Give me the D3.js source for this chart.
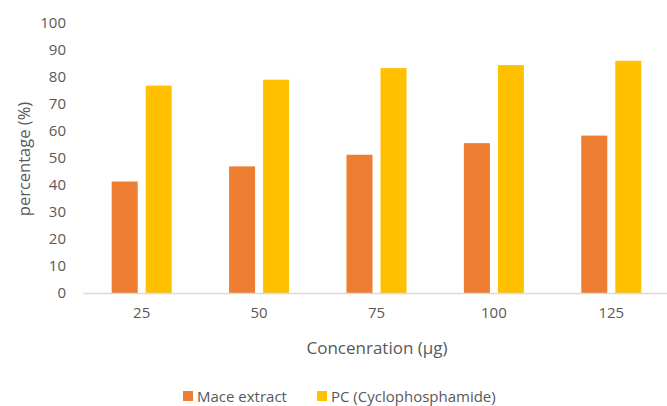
<!DOCTYPE html>
<html>
<head>
<meta charset="utf-8">
<script src="https://cdn.jsdelivr.net/npm/d3@7"></script>
<style>
  html, body { margin: 0; padding: 0; background: #fff; }
  svg { display: block; }
  text { font-family: "Open Sans", "Noto Sans", sans-serif; fill: #595959; }
</style>
</head>
<body>
<svg id="chart" width="667" height="406"></svg>
<script>
const categories = ["25", "50", "75", "100", "125"];
const seriesNames = ["Mace extract", "PC (Cyclophosphamide)"];
const maceValues = [41.3, 46.9, 51.2, 55.5, 58.3];
const pcValues = [76.8, 79.0, 83.3, 84.4, 86.0];
const yTicks = [0, 10, 20, 30, 40, 50, 60, 70, 80, 90, 100];
const colors = ["#ED7D31", "#FFC000"];
const xTitle = "Concenration (µg)";
const yTitle = "percentage (%)";

const svg = d3.select("#chart");
const m = { left: 83, right: 670, top: 23, bottom: 293 };

const x = d3.scaleBand().domain(categories).range([m.left, m.right]).paddingInner(0).paddingOuter(0);
const y = d3.scaleLinear().domain([0, 100]).range([m.bottom, m.top]);
const barW = 26, gapW = 8;
const groupW = barW * 2 + gapW;
const xs = d3.scaleBand().domain(seriesNames).range([0, groupW]).paddingInner(gapW / (barW + gapW)).paddingOuter(0);

// Y axis (labels only)
const yAxis = d3.axisLeft(y).tickValues(yTicks).tickSize(0).tickPadding(0);
const gy = svg.append("g").attr("transform", `translate(${m.left - 17},0)`).call(yAxis);
gy.select(".domain").remove();
gy.selectAll("text").attr("font-size", 15).attr("fill", "#595959").attr("font-family", "'Open Sans', sans-serif");

// bars
const data = [maceValues, pcValues];
categories.forEach((c, i) => {
  seriesNames.forEach((s, j) => {
    const v = data[j][i];
    svg.append("rect")
      .attr("x", x(c) + x.bandwidth() / 2 - groupW / 2 + xs(s))
      .attr("y", y(v))
      .attr("width", xs.bandwidth())
      .attr("height", y(0) - y(v))
      .attr("fill", colors[j]);
  });
});

// X axis
const xAxis = d3.axisBottom(x).tickSize(0).tickPadding(14);
const gx = svg.append("g").attr("transform", `translate(0,${y(0)})`).call(xAxis);
gx.select(".domain").attr("stroke", "#D9D9D9").attr("stroke-width", 1.3);
gx.selectAll("text").attr("font-size", 15).attr("fill", "#595959").attr("font-family", "'Open Sans', sans-serif");

// axis titles
svg.append("text")
  .attr("x", 377).attr("y", 354)
  .attr("text-anchor", "middle").attr("font-size", 17)
  .text(xTitle);
svg.append("text")
  .attr("transform", `translate(30,159) rotate(-90)`)
  .attr("text-anchor", "middle").attr("font-size", 16.5)
  .text(yTitle);

// legend
const legend = svg.append("g");
const legendX = [183, 317];
seriesNames.forEach((s, j) => {
  legend.append("rect").attr("x", legendX[j]).attr("y", 391).attr("width", 10).attr("height", 10).attr("fill", colors[j]);
  legend.append("text").attr("x", legendX[j] + 14).attr("y", 401.5).attr("font-size", 15).text(s);
});
</script>
</body>
</html>
